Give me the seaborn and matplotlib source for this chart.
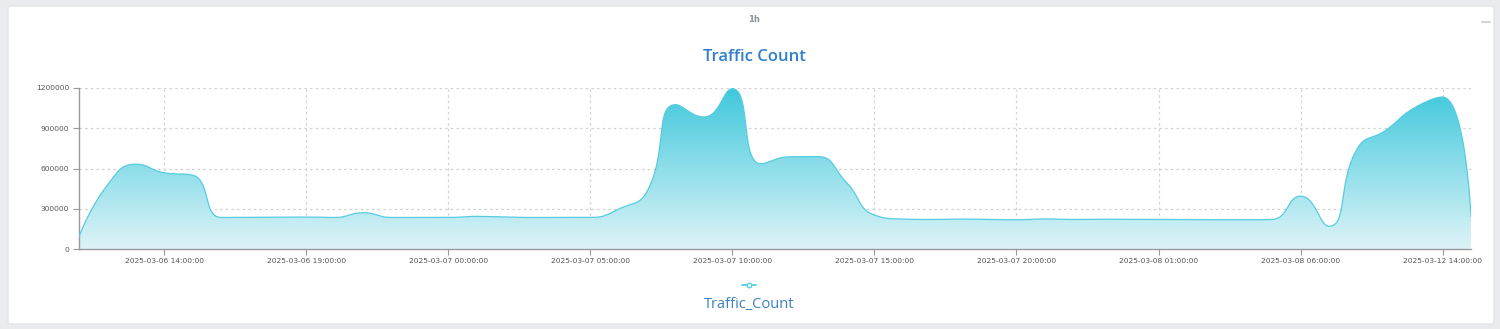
import numpy as np
import pandas as pd
import matplotlib
matplotlib.use("Agg")
import matplotlib.pyplot as plt
import seaborn as sns
from matplotlib.patches import FancyBboxPatch, Polygon
from matplotlib.lines import Line2D

# ---------------- data ----------------
timestamps = [
    "2025-03-06 11:00:00", "2025-03-06 12:00:00", "2025-03-06 13:00:00", "2025-03-06 14:00:00",
    "2025-03-06 15:00:00", "2025-03-06 16:00:00", "2025-03-06 17:00:00", "2025-03-06 18:00:00",
    "2025-03-06 19:00:00", "2025-03-06 20:00:00", "2025-03-06 21:00:00", "2025-03-06 22:00:00",
    "2025-03-06 23:00:00", "2025-03-07 00:00:00", "2025-03-07 01:00:00", "2025-03-07 02:00:00",
    "2025-03-07 03:00:00", "2025-03-07 04:00:00", "2025-03-07 05:00:00", "2025-03-07 06:00:00",
    "2025-03-07 07:00:00", "2025-03-07 08:00:00", "2025-03-07 09:00:00", "2025-03-07 10:00:00",
    "2025-03-07 11:00:00", "2025-03-07 12:00:00", "2025-03-07 13:00:00", "2025-03-07 14:00:00",
    "2025-03-07 15:00:00", "2025-03-07 16:00:00", "2025-03-07 17:00:00", "2025-03-07 18:00:00",
    "2025-03-07 19:00:00", "2025-03-07 20:00:00", "2025-03-07 21:00:00", "2025-03-07 22:00:00",
    "2025-03-07 23:00:00", "2025-03-08 00:00:00", "2025-03-08 01:00:00", "2025-03-08 02:00:00",
    "2025-03-08 03:00:00", "2025-03-08 04:00:00", "2025-03-08 05:00:00", "2025-03-08 06:00:00",
    "2025-03-08 07:00:00", "2025-03-08 08:00:00", "2025-03-12 12:00:00", "2025-03-12 13:00:00",
    "2025-03-12 14:00:00", "2025-03-12 15:00:00",
]
traffic_count = [
    92000, 476000, 632000, 568000, 550000, 235000, 236000, 238000, 238000, 235000,
    270000, 235000, 235000, 235000, 243000, 238000, 235000, 235000, 235000, 298000,
    431000, 1076000, 984000, 1195000, 635000, 687000, 689000, 500000, 253000, 223000,
    220000, 223000, 220000, 218000, 224000, 220000, 222000, 221000, 220000, 219000,
    218000, 218000, 220000, 394000, 169000, 749000, 885000, 1051000, 1133000, 240000,
]
y_ticks = [0, 300000, 600000, 900000, 1200000]
series_name = "Traffic_Count"
chart_title = "Traffic Count"
interval_label = "1h"

# ---------------- figure ----------------
W, H, DPI = 1500, 329, 100
fig = plt.figure(figsize=(W / DPI, H / DPI), dpi=DPI)
fig.patch.set_facecolor("#e9ebee")

# card background
card = FancyBboxPatch((8 / W, 5 / H), (1494 - 8) / W, (323 - 5) / H,
                      boxstyle="round,pad=0,rounding_size=0.004",
                      transform=fig.transFigure, facecolor="white",
                      edgecolor="#e2e4e8", linewidth=1.0, zorder=-5)
fig.patches.append(card)

sns.set_style("white")
left, right = 79 / W, 1471 / W
bottom, top = (H - 249) / H, (H - 88) / H
ax = fig.add_axes([left, bottom, right - left, top - bottom])
ax.set_zorder(2)
ax.set_facecolor("none")

n = len(traffic_count)
xs = np.arange(n, dtype=float)
vals = np.array(traffic_count, dtype=float)

# --- ECharts-like smooth bezier (computed in pixel space) ---
sx = (1471 - 79) / (n - 1)          # px per category
sy = (249 - 88) / 1200000.0         # px per unit
P = np.column_stack([xs * sx, vals * sy])
smooth = 0.5
dense = [P[0].copy()]
cp0 = P[0].copy()
for k in range(1, n):
    prev = P[k - 1]
    cur = P[k]
    if k + 1 >= n:
        cp1 = cur.copy()
        nxt_cp0 = cur.copy()
    else:
        nxt = P[k + 1]
        v = nxt - prev
        d0 = cur - prev
        d1 = nxt - cur
        l0 = np.hypot(*d0)
        l1 = np.hypot(*d1)
        r = l1 / (l1 + l0)
        nc = cur + v * smooth * r
        nc = np.minimum(nc, np.maximum(nxt, cur))
        nc = np.maximum(nc, np.minimum(nxt, cur))
        vv = nc - cur
        cp1 = cur - vv * l0 / l1
        cp1 = np.minimum(cp1, np.maximum(prev, cur))
        cp1 = np.maximum(cp1, np.minimum(prev, cur))
        vv = cur - cp1
        nxt_cp0 = cur + vv * l1 / l0
    t = np.linspace(0, 1, 25)[1:, None]
    seg = ((1 - t) ** 3) * prev + 3 * ((1 - t) ** 2) * t * cp0 + 3 * (1 - t) * t ** 2 * cp1 + t ** 3 * cur
    dense.extend(seg)
    cp0 = nxt_cp0
dense = np.array(dense)
cx = dense[:, 0] / sx
cy = dense[:, 1] / sy
curve = pd.DataFrame({"x": cx, "y": cy})

# gradient fill clipped to the area polygon
ymax = vals.max()
grad = np.linspace(0, 1, 256)[:, None]
top_c = np.array([64, 200, 220]) / 255.0
bot_c = np.array([222, 244, 248]) / 255.0
img = grad[..., None] * top_c + (1 - grad[..., None]) * bot_c
img = np.repeat(img, 2, axis=1)
im = ax.imshow(img, extent=[0, n - 1, 0, ymax], origin="lower", aspect="auto", zorder=1)
poly = Polygon(np.vstack([np.column_stack([cx, cy]), [[n - 1, 0], [0, 0]]]),
               closed=True, facecolor="none", edgecolor="none", transform=ax.transData)
ax.add_patch(poly)
im.set_clip_path(poly)

sns.lineplot(data=curve, x="x", y="y", sort=False, estimator=None, ax=ax,
             color="#55cde0", linewidth=0.9, zorder=3)

ax.set_xlim(0, n - 1)
ax.set_ylim(0, 1200000)

tick_idx = list(range(3, n, 5))
ax.set_xticks(tick_idx)
ax.set_xticklabels([timestamps[i] for i in tick_idx])
ax.set_yticks(y_ticks)
ax.set_yticklabels([str(v) for v in y_ticks])
ax.set_xlabel("")
ax.set_ylabel("")

# grid
grid_kw = dict(color="#d2d2d2", linestyle=(0, (2, 2.5)), linewidth=0.9, zorder=0.5)
for v in y_ticks[1:]:
    ax.axhline(v, **grid_kw)
for i in tick_idx + [n - 1]:
    ax.axvline(i, **grid_kw)

for s in ["top", "right"]:
    ax.spines[s].set_visible(False)
for s in ["left", "bottom"]:
    ax.spines[s].set_color("#9a9a9a")
    ax.spines[s].set_linewidth(1.0)
ax.tick_params(axis="x", length=4, width=0.8, color="#9a9a9a", labelsize=5.4,
               labelcolor="#555555", pad=2.5, direction="out", bottom=True)
ax.tick_params(axis="y", length=4, width=0.8, color="#9a9a9a", labelsize=5.4,
               labelcolor="#555555", pad=3, direction="out", left=True)
for lab in ax.get_xticklabels() + ax.get_yticklabels():
    lab.set_family(["DejaVu Sans"])

# texts
fig.text(754 / W, 1 - 20 / H, interval_label, ha="center", va="center",
         fontsize=6, color="#8a9099", fontweight="bold", family=["DejaVu Sans"])
fig.text(754 / W, 1 - 57 / H, chart_title, ha="center", va="center",
         fontsize=12, color="#2f7fc9", family=["Open Sans"], fontweight="semibold")
fig.add_artist(Line2D([1482 / W, 1490 / W], [1 - 22 / H, 1 - 22 / H],
                      transform=fig.transFigure, color="#d0d4da", linewidth=1.5))

# legend
fig.add_artist(Line2D([742 / W, 756 / W], [1 - 285 / H, 1 - 285 / H],
                      transform=fig.transFigure, color="#55cde0", linewidth=1.3))
fig.add_artist(Line2D([749 / W], [1 - 285 / H], transform=fig.transFigure,
                      marker="o", markersize=3.2, markerfacecolor="white",
                      markeredgecolor="#55cde0", markeredgewidth=1.0, linestyle="none"))
fig.text(749 / W, 1 - 305 / H, series_name, ha="center", va="center",
         fontsize=10.5, color="#3a80c6", family=["Open Sans"], fontweight="medium")

fig.savefig("out.png", dpi=DPI, facecolor=fig.get_facecolor())
